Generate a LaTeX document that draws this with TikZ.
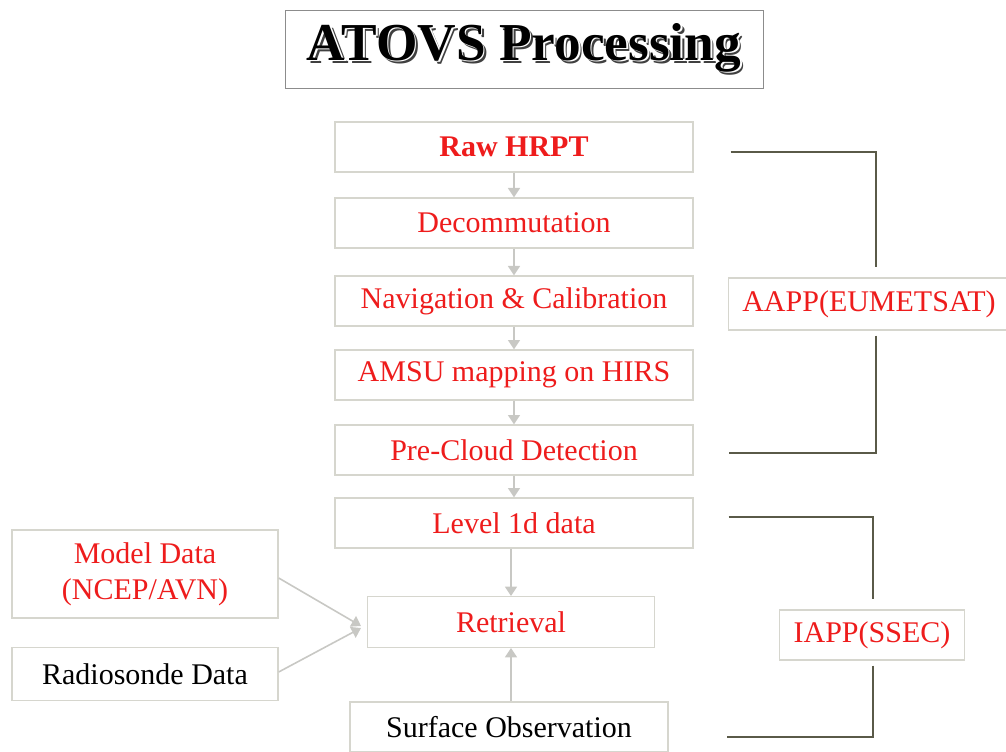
\documentclass[tikz,border=0pt]{standalone}
\usepackage{fontspec}
\setmainfont{Liberation Serif}
\usetikzlibrary{arrows.meta}
\definecolor{boxred}{HTML}{EE1C1C}
\definecolor{boxline}{HTML}{D6D6CE}
\definecolor{flowgray}{HTML}{C8C8C4}
\definecolor{bracketgray}{HTML}{5A5A48}
\newcommand\embossed[1]{\makebox[0pt][l]{\hspace{2.4pt}\raisebox{-2.4pt}{\color{black!75}#1}}\makebox[0pt][l]{\hspace{1.2pt}\raisebox{-1.2pt}{\color{white}#1}}#1}
\begin{document}
\begin{tikzpicture}[x=0.75pt, y=-0.75pt,
  stepbox/.style={draw=boxline, line width=1pt, fill=white, inner sep=0pt,
    minimum width=268.5pt, minimum height=37.5pt, text=boxred,
    font=\fontsize{22.5}{27}\selectfont},
  sidebox/.style={stepbox, minimum width=199.5pt},
  flow/.style={draw=flowgray, line width=1.2pt, -{Triangle[width=9pt, length=7pt]}},
  bracket/.style={draw=bracketgray, line width=2.2pt}]
\useasboundingbox (0,0) rectangle (1006,752);
\node[draw=black!45, line width=0.6pt, inner sep=0pt, minimum width=358.5pt, minimum height=58.5pt,
  font=\fontsize{40}{44}\bfseries\selectfont] (title) at (524,49) {\raisebox{-3pt}{\embossed{ATOVS Processing}}};
\node[stepbox, font=\fontsize{22.5}{27}\bfseries\selectfont] (raw) at (514,147) {Raw HRPT};
\node[stepbox] (decom) at (514,223) {Decommutation};
\node[stepbox] (nav) at (514,301) {Navigation \& Calibration};
\node[stepbox] (amsu) at (514,375) {AMSU mapping on HIRS};
\node[stepbox] (cloud) at (514,450) {Pre-Cloud Detection};
\node[stepbox] (lev) at (514,523) {Level 1d data};
\node[stepbox, minimum width=215pt, minimum height=38pt] (ret) at (511,622) {Retrieval};
\node[sidebox, minimum height=66pt, align=center] (model) at (145,574) {Model Data\\(NCEP/AVN)};
\node[sidebox, minimum height=40pt, text=black] (radio) at (145,674) {Radiosonde Data};
\node[stepbox, minimum width=238.5pt, text=black] (surf) at (509,727) {Surface Observation};
\node[stepbox, minimum width=211pt, minimum height=39pt] (aapp) at (869,304) {AAPP(EUMETSAT)};
\node[stepbox, minimum width=139pt] (iapp) at (872,635) {IAPP(SSEC)};
% processing chain
\draw[flow] (raw) -- (decom);
\draw[flow] (decom) -- (nav);
\draw[flow] (nav) -- (amsu);
\draw[flow] (amsu) -- (cloud);
\draw[flow] (cloud) -- (lev);
\draw[flow] (lev.south -| ret.north) -- (ret.north);
\draw[flow] (surf.north -| ret.south) -- (ret.south);
\draw[flow] ([yshift=-3pt]model.east) -- ([xshift=-4.5pt,yshift=-3pt]ret.west);
\draw[flow] ([yshift=1.5pt]radio.east) -- ([xshift=-4.5pt,yshift=-4.5pt]ret.west);
% packages
\draw[bracket] ([xshift=27.75pt,yshift=-3.75pt]raw.east) -| ([xshift=5.25pt,yshift=7.5pt]aapp.north);
\draw[bracket] ([xshift=5.25pt,yshift=-3.75pt]aapp.south) |- ([xshift=26.25pt,yshift=-2.25pt]cloud.east);
\draw[bracket] ([xshift=26.25pt,yshift=4.5pt]lev.east) -| ([xshift=0.75pt,yshift=7.5pt]iapp.north);
\draw[bracket] ([xshift=0.75pt,yshift=-3.75pt]iapp.south) |- ([xshift=43.5pt,yshift=-7.5pt]surf.east);
\end{tikzpicture}
\end{document}
